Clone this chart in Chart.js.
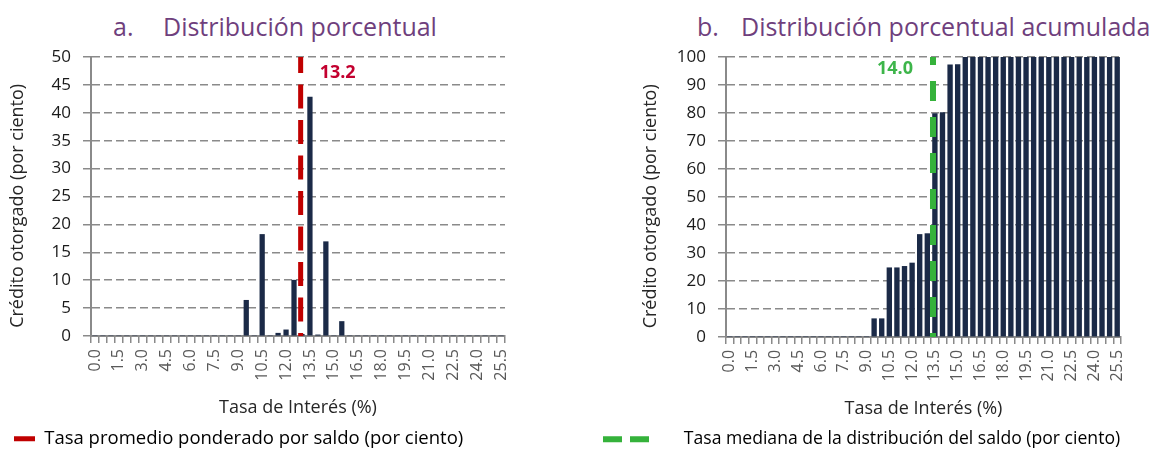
<!DOCTYPE html>
<html>
<head>
<meta charset="utf-8">
<script src="https://cdn.jsdelivr.net/npm/chart.js@4"></script>
<style>
  body { margin: 0; width: 1167px; height: 451px; overflow: hidden; background: #fff; position: relative; font-family: "Open Sans"; }
  canvas { position: absolute; top: 0; }
  .titulo { position: absolute; top: 11px; font-size: 25px; line-height: 30px; color: #6F3F7D; white-space: nowrap; }
  .titulo span { position: absolute; top: 0; }
</style>
</head>
<body>
<div class="titulo" style="left:113px"><span style="left:0">a.</span><span style="left:50px">Distribución porcentual</span></div>
<div class="titulo" style="left:697px"><span style="left:0">b.</span><span style="left:44px">Distribución porcentual acumulada</span></div>
<canvas id="chart1" width="583" height="458" style="left:0"></canvas>
<canvas id="chart2" width="578" height="458" style="left:589px"></canvas>
<script>
// tasas de interes (categorias del eje x)
var categorias = ['0.0', '0.5', '1.0', '1.5', '2.0', '2.5', '3.0', '3.5', '4.0', '4.5',
  '5.0', '5.5', '6.0', '6.5', '7.0', '7.5', '8.0', '8.5', '9.0', '9.5',
  '10.0', '10.5', '11.0', '11.5', '12.0', '12.5', '13.0', '13.5', '14.0', '14.5',
  '15.0', '15.5', '16.0', '16.5', '17.0', '17.5', '18.0', '18.5', '19.0', '19.5',
  '20.0', '20.5', '21.0', '21.5', '22.0', '22.5', '23.0', '23.5', '24.0', '24.5',
  '25.0', '25.5'];

// a. distribucion porcentual
var distribucion = [0, 0, 0, 0, 0, 0, 0, 0, 0, 0,
  0, 0, 0, 0, 0, 0, 0, 0, 0, 6.4,
  0, 18.2, 0, 0.5, 1.1, 10.0, 0.3, 42.8, 0.2, 16.9,
  0, 2.6, 0, 0, 0, 0, 0, 0, 0, 0,
  0, 0, 0, 0, 0, 0, 0, 0, 0, 0,
  0, 0];

// b. distribucion porcentual acumulada
var acumulada = [0, 0, 0, 0, 0, 0, 0, 0, 0, 0,
  0, 0, 0, 0, 0, 0, 0, 0, 0, 6.5,
  6.5, 24.7, 24.7, 25.2, 26.4, 36.6, 36.9, 79.8, 80.1, 97.2,
  97.3, 100, 100, 100, 100, 100, 100, 100, 100, 100,
  100, 100, 100, 100, 100, 100, 100, 100, 100, 100,
  100, 100];

var tasaPromedio = 13.2;
var tasaMediana = 14.0;

var rojo = '#C00000';
var verde = '#35B23B';
var azul = '#1B2A47';
var gris = '#8a8a8a';

Chart.defaults.font.family = '"Open Sans"';
Chart.defaults.color = '#262626';

// texto junto a la linea vertical
var etiquetaLinea = {
  id: 'etiquetaLinea',
  afterDatasetsDraw: function (chart, args, o) {
    var ctx = chart.ctx;
    var x = chart.scales.x2.getPixelForValue(o.valor) + o.dx;
    var y = chart.scales.y.getPixelForValue(o.yValor);
    ctx.save();
    ctx.font = 'bold 18px "Open Sans"';
    ctx.fillStyle = o.color;
    ctx.textAlign = o.align;
    ctx.textBaseline = 'middle';
    ctx.fillText(o.valor.toFixed(1), x, y);
    ctx.restore();
  }
};

function ejes(yMax, yStep, yWidth, yTitlePad, x2min) {
  return {
    x: {
      grid: { display: true, drawOnChartArea: false, color: gris, lineWidth: 1.5, tickLength: 7 },
      border: { color: gris, width: 2 },
      ticks: {
        autoSkip: false, maxRotation: 90, minRotation: 90, padding: 6,
        color: '#595959', font: { size: 16 },
        callback: function (v, i) { return i % 3 === 0 ? categorias[i] : ''; }
      },
      title: { display: true, text: 'Tasa de Interés (%)', font: { size: 18 }, padding: { top: 0, bottom: -3 } },
      afterFit: function (s) { s.height = 79.5; }
    },
    x2: { type: 'linear', display: false, min: x2min, max: x2min + 26 },
    y: {
      min: 0, max: yMax,
      ticks: { stepSize: yStep, padding: 12, color: '#1a1a1a', font: { size: 17 } },
      grid: { color: gris, lineWidth: 1.5, tickLength: 8, tickColor: gris },
      border: { color: gris, width: 2, dash: [8, 4] },
      title: { display: true, text: 'Crédito otorgado (por ciento)\u00a0\u00a0\u00a0\u00a0', font: { size: 18 }, padding: { top: yTitlePad, bottom: 0 } },
      afterFit: function (s) { s.width = yWidth; }
    }
  };
}

var ctx = document.getElementById('chart1').getContext('2d');
var myChart = new Chart(ctx, {
  type: 'bar',
  data: {
    labels: categorias,
    datasets: [{
      label: 'distribucion',
      data: distribucion,
      backgroundColor: azul,
      barThickness: 4.6,
      grouped: false,
      order: 1
    }, {
      type: 'line',
      label: 'Tasa promedio ponderado por saldo (por ciento)',
      data: [{ x: tasaPromedio, y: 50 }, { x: tasaPromedio, y: 0 }],
      xAxisID: 'x2',
      borderColor: rojo,
      borderWidth: 5,
      borderDash: [24, 11.5],
      borderDashOffset: 8,
      pointRadius: 0,
      order: 0
    }]
  },
  options: {
    responsive: false,
    animation: false,
    layout: { padding: { top: 57, right: 78, left: 0, bottom: 0 } },
    scales: ejes(50, 5, 91, 7, 0),
    plugins: {
      tooltip: { enabled: false },
      legend: {
        position: 'bottom', align: 'start',
        labels: {
          padding: 14, usePointStyle: true, pointStyleWidth: 21,
          color: '#1a1a1a', font: { size: 18.5 },
          generateLabels: function () {
            return [{ text: 'Tasa promedio ponderado por saldo (por ciento)', pointStyle: 'line',
              strokeStyle: rojo, fillStyle: rojo, lineWidth: 5, lineDash: [], datasetIndex: 1 }];
          }
        }
      },
      etiquetaLinea: { valor: tasaPromedio, yValor: 47.2, dx: 19, align: 'left', color: '#C3002F' }
    }
  },
  plugins: [etiquetaLinea]
});

var ctx = document.getElementById('chart2').getContext('2d');
var myChart = new Chart(ctx, {
  type: 'bar',
  data: {
    labels: categorias,
    datasets: [{
      label: 'acumulada',
      data: acumulada,
      backgroundColor: azul,
      barThickness: 4.7,
      grouped: false,
      order: 1
    }, {
      type: 'line',
      label: 'Tasa mediana de la distribución del saldo (por ciento)',
      data: [{ x: tasaMediana, y: 0 }, { x: tasaMediana, y: 100 }],
      xAxisID: 'x2',
      borderColor: verde,
      borderWidth: 6,
      borderDash: [20, 16],
      borderDashOffset: 16,
      pointRadius: 0,
      order: 0
    }]
  },
  options: {
    responsive: false,
    animation: false,
    layout: { padding: { top: 57, right: 46, left: 0, bottom: 0 } },
    scales: ejes(100, 10, 137, 51, 0.25),
    plugins: {
      tooltip: { enabled: false },
      legend: {
        position: 'bottom', align: 'start',
        labels: {
          padding: 14, usePointStyle: true, pointStyleWidth: 72,
          color: '#1a1a1a', font: { size: 17.6 },
          generateLabels: function () {
            return [{ text: 'Tasa mediana de la distribución del saldo (por ciento)', pointStyle: 'line',
              strokeStyle: verde, fillStyle: verde, lineWidth: 6, lineDash: [19, 8, 19, 26], datasetIndex: 1 }];
          }
        }
      },
      etiquetaLinea: { valor: tasaMediana, yValor: 95.6, dx: -20, align: 'right', color: '#3DB54A' }
    }
  },
  plugins: [etiquetaLinea]
});
</script>
</body>
</html>
